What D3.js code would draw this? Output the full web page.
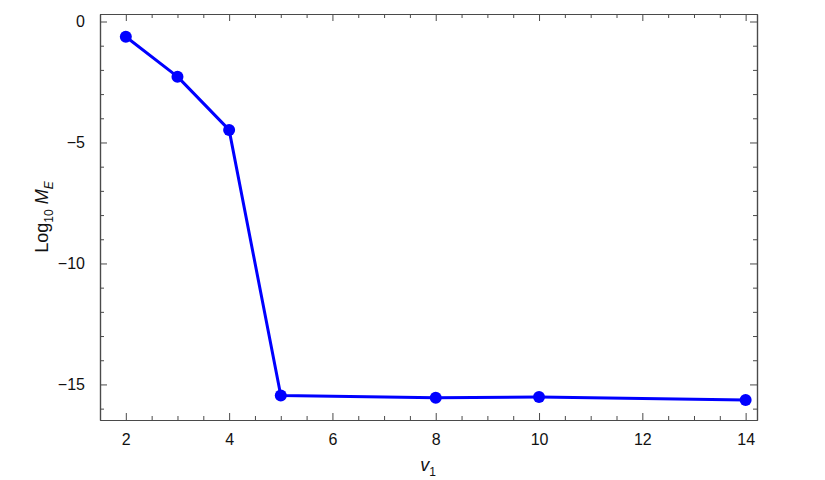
<!DOCTYPE html>
<html><head><meta charset="utf-8">
<script src="https://cdn.jsdelivr.net/npm/d3@7"></script>
<style>body{margin:0;background:#fff}svg{display:block}text{font-family:"Liberation Sans",Arial,sans-serif}</style>
</head><body>
<svg id="c" width="825" height="480"></svg>
<script>
const xValues = [2, 3, 4, 5, 8, 10, 14];
const yValues = [-0.63, -2.28, -4.48, -15.46, -15.55, -15.52, -15.64];
const xMajorTicks = [2, 4, 6, 8, 10, 12, 14];
const yMajorTicks = [0, -5, -10, -15];

const svg = d3.select("#c");
const L = 100, R = 757, T = 14, B = 420;
const x = d3.scaleLinear().domain([1.5, 14.22]).range([L, R]);
const y = d3.scaleLinear().domain([-16.47, 0.31]).range([B, T]);
const frameCol = "#4a4a4a";

const xMinor = d3.range(1.5, 14.23, 0.5).filter(v => !xMajorTicks.includes(v));
const yMinor = d3.range(-16, 0.5, 1).filter(v => !yMajorTicks.includes(v));

const g = svg.append("g");
g.append("g").attr("transform", `translate(0,${B})`)
  .call(d3.axisBottom(x).tickValues(xMajorTicks).tickSizeInner(-7).tickSizeOuter(0).tickPadding(14).tickFormat(d3.format("d")));
g.append("g").attr("transform", `translate(0,${B})`)
  .call(d3.axisBottom(x).tickValues(xMinor).tickSizeInner(-4).tickSizeOuter(0).tickFormat(""));
g.append("g").attr("transform", `translate(0,${T})`)
  .call(d3.axisTop(x).tickValues(xMajorTicks).tickSizeInner(-7).tickSizeOuter(0).tickFormat(""));
g.append("g").attr("transform", `translate(0,${T})`)
  .call(d3.axisTop(x).tickValues(xMinor).tickSizeInner(-4).tickSizeOuter(0).tickFormat(""));
g.append("g").attr("transform", `translate(${L},0)`)
  .call(d3.axisLeft(y).tickValues(yMajorTicks).tickSizeInner(-7).tickSizeOuter(0).tickPadding(15)
    .tickFormat(d => d < 0 ? "\u2212" + Math.abs(d) : d));
g.append("g").attr("transform", `translate(${L},0)`)
  .call(d3.axisLeft(y).tickValues(yMinor).tickSizeInner(-4).tickSizeOuter(0).tickFormat(""));
g.append("g").attr("transform", `translate(${R},0)`)
  .call(d3.axisRight(y).tickValues(yMajorTicks).tickSizeInner(-7).tickSizeOuter(0).tickFormat(""));
g.append("g").attr("transform", `translate(${R},0)`)
  .call(d3.axisRight(y).tickValues(yMinor).tickSizeInner(-4).tickSizeOuter(0).tickFormat(""));

g.selectAll("g").attr("font-size", null).attr("font-family", null);
g.selectAll(".domain").attr("stroke", frameCol).attr("stroke-width", 1.2);
g.selectAll(".tick line").attr("stroke", frameCol).attr("stroke-width", 1);
g.selectAll(".tick text").style("font-size", "16px").attr("fill", "#111")
  .style("font-family", "'Liberation Sans', Arial, sans-serif");

const pts = xValues.map((v, i) => [v, yValues[i]]);
svg.append("path").datum(pts)
  .attr("fill", "none").attr("stroke", "#0000ff").attr("stroke-width", 3)
  .attr("stroke-linejoin", "round")
  .attr("d", d3.line().x(d => x(d[0])).y(d => y(d[1])));
svg.selectAll("circle.pt").data(pts).enter().append("circle")
  .attr("class", "pt").attr("cx", d => x(d[0])).attr("cy", d => y(d[1]))
  .attr("r", 6).attr("fill", "#0000ff");

const yl = svg.append("text").attr("transform", "translate(48,217) rotate(-90)")
  .attr("text-anchor", "middle").style("font-size", "18px").attr("fill", "#111");
yl.append("tspan").text("Log");
yl.append("tspan").style("font-size", "12px").attr("dy", 5).text("10");
yl.append("tspan").attr("dy", -5).text(" ");
yl.append("tspan").attr("font-style", "italic").text("M");
yl.append("tspan").attr("font-style", "italic").style("font-size", "12px").attr("dy", 5).text("E");

const xl = svg.append("text").attr("x", 428).attr("y", 471)
  .attr("text-anchor", "middle").style("font-size", "18px").attr("fill", "#111");
xl.append("tspan").attr("font-style", "italic").text("v");
xl.append("tspan").style("font-size", "12px").attr("dy", 5).text("1");
</script>
</body></html>
